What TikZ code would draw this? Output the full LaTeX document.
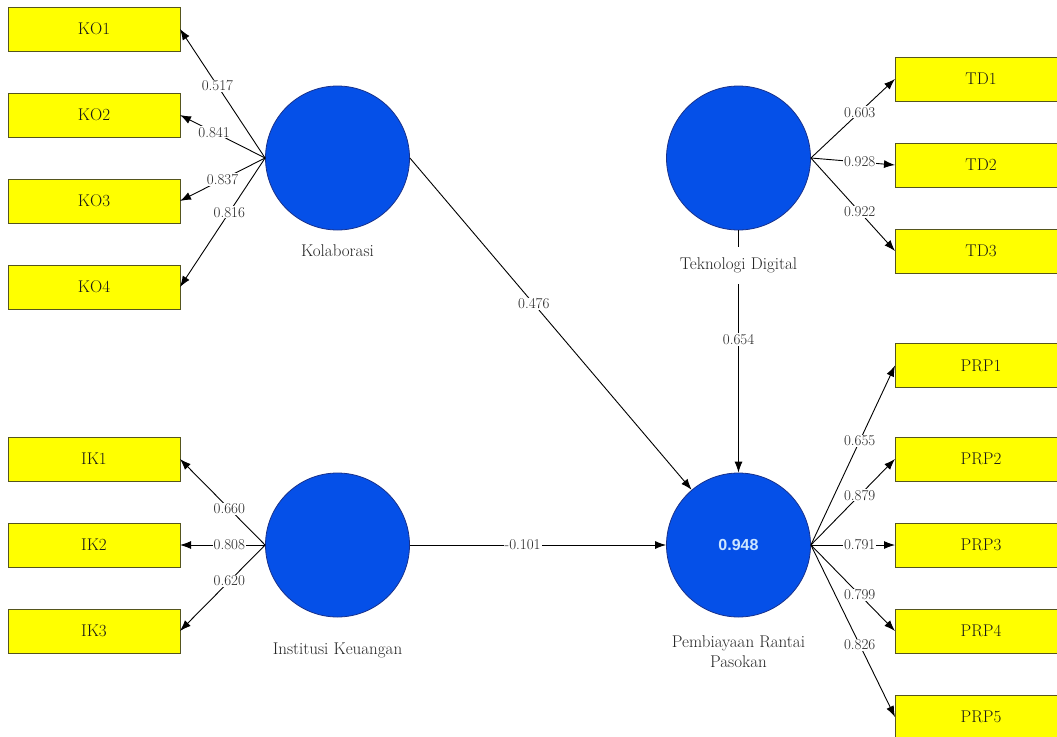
\documentclass[tikz,border=0pt]{standalone}
\usepackage{fontspec}
\setsansfont{Liberation Sans}
\usetikzlibrary{positioning,arrows.meta}
\definecolor{lvblue}{RGB}{5,80,232}
\definecolor{lvedge}{RGB}{25,50,140}
\definecolor{mvyellow}{RGB}{255,255,0}
\definecolor{mvedge}{RGB}{85,85,30}
\definecolor{rsqtext}{RGB}{205,230,255}

\begin{document}
\begin{tikzpicture}[
      x=1pt, y=1pt,
      node distance=42pt,
      >={Latex[length=11pt,width=8pt]},
      construct/.style={draw=lvedge,fill=lvblue,circle,minimum size=144pt,inner sep=0pt,line width=0.8pt},
      indicator/.style={draw=mvedge,fill=mvyellow,minimum width=172pt,minimum height=44pt,
        inner sep=0pt,outer sep=0pt,line width=1pt,text=black!90,font=\rmfamily\fontsize{17}{19}\selectfont},
      lvname/.style={fill=white,inner xsep=2pt,inner ysep=11pt,align=center,text=black!85,
        font=\rmfamily\fontsize{17}{20}\selectfont},
      weight/.style={fill=white,inner sep=1pt,text=black!85,font=\rmfamily\fontsize{15}{17}\selectfont},
      ]
      \useasboundingbox (0,0) rectangle (1057,-736);
      \clip (0,0) rectangle (1057,-736);
      % latent variables
      \node[construct] (kol) at (337.5,-158) {};
      \node[construct] (tek) at (738.5,-158) {};
      \node[construct] (ins) at (337.5,-545) {};
      \node[construct,text=rsqtext,font=\sffamily\bfseries\fontsize{16}{18}\selectfont] (prp) at (738.5,-545) {0.948};
      % indicators
      \node[indicator] (ko1) at (94,-29) {KO1};
      \node[indicator,below=of ko1] (ko2) {KO2};
      \node[indicator,below=of ko2] (ko3) {KO3};
      \node[indicator,below=of ko3] (ko4) {KO4};
      \node[indicator] (ik1) at (94,-459) {IK1};
      \node[indicator,below=of ik1] (ik2) {IK2};
      \node[indicator,below=of ik2] (ik3) {IK3};
      \node[indicator] (td1) at (981,-79) {TD1};
      \node[indicator,below=of td1] (td2) {TD2};
      \node[indicator,below=of td2] (td3) {TD3};
      \node[indicator] (prp1) at (981,-365.5) {PRP1};
      \node[indicator,below=49.5pt of prp1] (prp2) {PRP2};
      \node[indicator,below=of prp2] (prp3) {PRP3};
      \node[indicator,below=of prp3] (prp4) {PRP4};
      \node[indicator,below=of prp4] (prp5) {PRP5};
      \path[->,line width=0.9pt]
      (kol.west) edge node[weight,pos=.56] {0.517} (ko1.east)
      (kol.west) edge node[weight,pos=.6] {0.841} (ko2.east)
      (kol.west) edge node[weight,pos=.5] {0.837} (ko3.east)
      (kol.west) edge node[weight,pos=.42] {0.816} (ko4.east)
      (ins.west) edge node[weight,pos=.42] {0.660} (ik1.east)
      (ins.west) edge node[weight,pos=.42] {0.808} (ik2.east)
      (ins.west) edge node[weight,pos=.42] {0.620} (ik3.east)
      (tek.east) edge node[weight,pos=.58] {0.603} (td1.west)
      (tek.east) edge node[weight,pos=.58] {0.928} (td2.west)
      (tek.east) edge node[weight,pos=.58] {0.922} (td3.west)
      (prp.east) edge node[weight,pos=.58] {0.655} (prp1.west)
      (prp.east) edge node[weight,pos=.58] {0.879} (prp2.west)
      (prp.east) edge node[weight,pos=.58] {0.791} (prp3.west)
      (prp.east) edge node[weight,pos=.58] {0.799} (prp4.west)
      (prp.east) edge node[weight,pos=.58] {0.826} (prp5.west)
      (kol.east) edge node[weight,pos=.44] {0.476} (prp)
      (ins.east) edge node[weight,pos=.44] {-0.101} (prp.west)
      (tek.south) edge node[weight,pos=.45] {0.654} (prp.north);
      % construct names
      \node[lvname,below=3pt of kol] (kolname) {Kolaborasi};
      \node[lvname,below=16pt of tek] (tekname) {Teknologi Digital};
      \node[lvname,below=14pt of ins] (insname) {Institusi Keuangan};
      \node[lvname,below=7pt of prp] (prpname) {Pembiayaan Rantai\\Pasokan};
\end{tikzpicture}
\end{document}
